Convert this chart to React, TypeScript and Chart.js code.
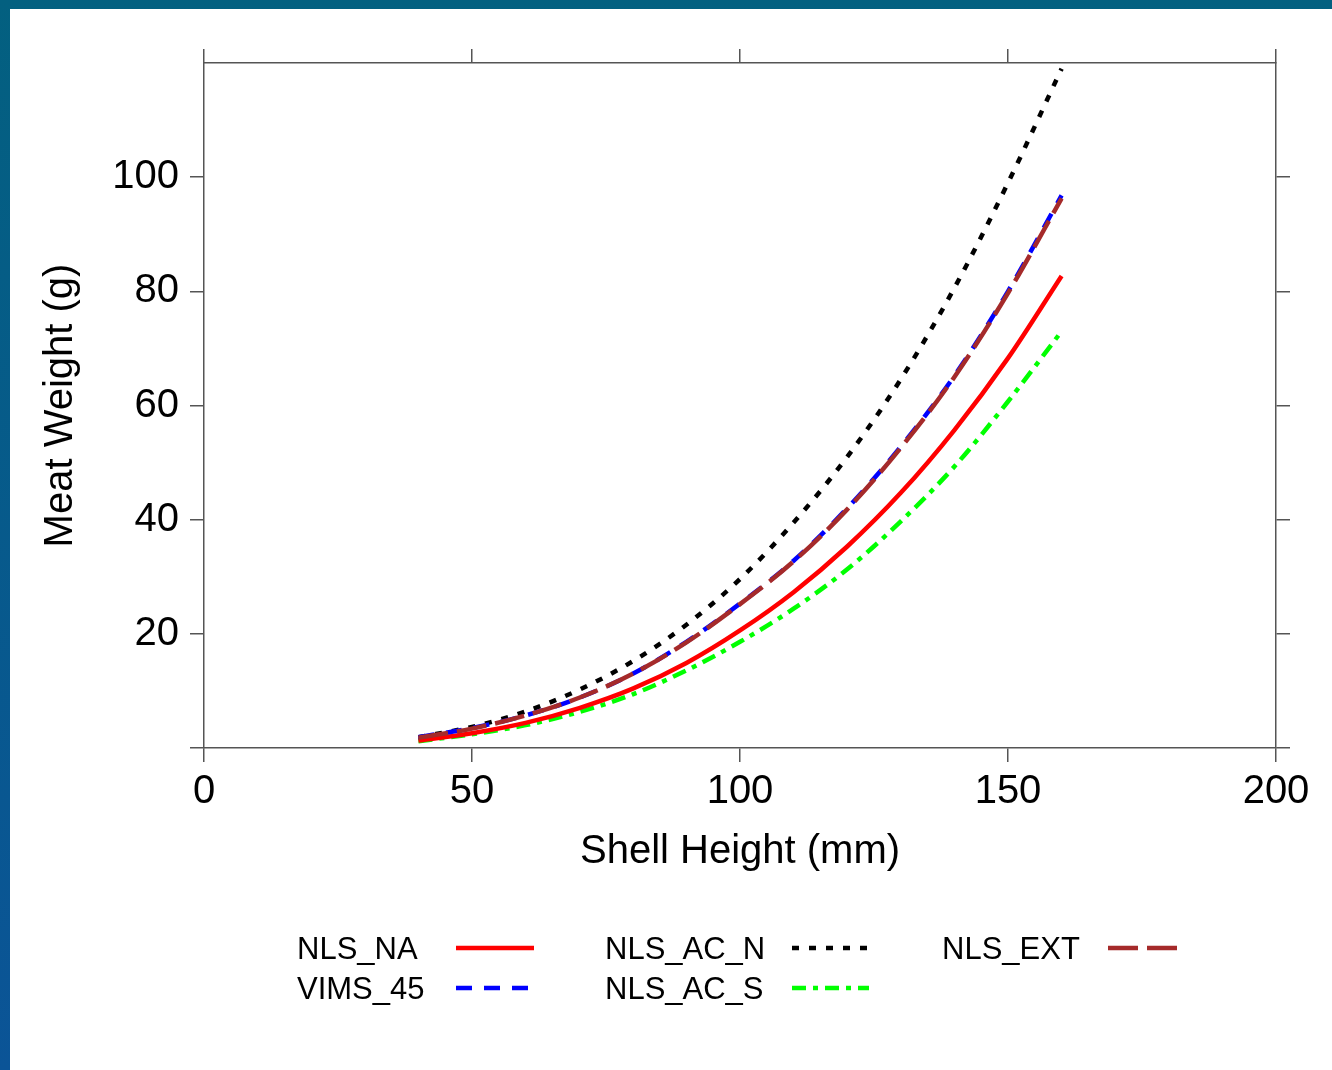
import React, { useEffect, useRef } from "react";
import { Chart, registerables } from "chart.js";

Chart.register(...registerables);

// ---- Data ----
const shellHeights = [40, 50, 60, 70, 80, 90, 100, 110, 120, 130, 140, 150, 160];
const nlsNA = [1.3, 2.6, 4.4, 7.0, 10.4, 14.9, 20.6, 27.3, 35.3, 44.7, 55.7, 68.3, 82.7];
const vims45 = [1.9, 3.5, 5.7, 8.8, 13.0, 18.6, 25.3, 32.8, 42.0, 52.8, 65.2, 80.0, 96.8];
const nlsACN = [1.9, 3.7, 6.4, 10.2, 15.2, 21.6, 29.6, 39.5, 51.0, 64.6, 80.6, 99.0, 119.0];
const nlsACS = [1.2, 2.4, 4.0, 6.3, 9.4, 13.6, 18.6, 24.4, 31.3, 39.7, 49.3, 60.7, 73.0];
const nlsEXT = [1.8, 3.4, 5.7, 8.8, 13.0, 18.5, 25.2, 32.7, 41.8, 52.6, 65.0, 79.7, 96.3];

const xTickValues = [0, 50, 100, 150, 200];
const yTickValues = [0, 20, 40, 60, 80, 100];

const xTitle = "Shell Height (mm)";
const yTitle = "Meat Weight (g)";

const FONT = "'Liberation Sans', Arial, Helvetica, sans-serif";
const AXIS_COLOR = "#555555";

type Style = { color: string; dash: number[]; order: number; col: number; row: number };

const seriesList: { name: string; values: number[]; style: Style }[] = [
  { name: "NLS_NA", values: nlsNA, style: { color: "#ff0000", dash: [], order: 3, col: 0, row: 0 } },
  { name: "VIMS_45", values: vims45, style: { color: "#0000ff", dash: [16, 12], order: 1, col: 0, row: 1 } },
  { name: "NLS_AC_N", values: nlsACN, style: { color: "#000000", dash: [7, 10], order: 2, col: 1, row: 0 } },
  { name: "NLS_AC_S", values: nlsACS, style: { color: "#00ff00", dash: [14, 7, 5, 7], order: 4, col: 1, row: 1 } },
  { name: "NLS_EXT", values: nlsEXT, style: { color: "#a52a2a", dash: [30, 9], order: 0, col: 2, row: 0 } },
];

const legendCols = [
  { textX: 297, lineX0: 456, lineX1: 534 },
  { textX: 605, lineX0: 792, lineX1: 869 },
  { textX: 942, lineX0: 1108, lineX1: 1182 },
];
const legendRows = [950, 990];

const legendPlugin = {
  id: "customLegend",
  afterDraw(chart: any) {
    const ctx = chart.ctx as CanvasRenderingContext2D;
    ctx.save();
    ctx.font = `31px ${FONT}`;
    ctx.textBaseline = "middle";
    ctx.textAlign = "left";
    for (const s of seriesList) {
      const c = legendCols[s.style.col];
      const y = legendRows[s.style.row];
      ctx.fillStyle = "#000";
      ctx.fillText(s.name, c.textX, y);
      ctx.beginPath();
      ctx.strokeStyle = s.style.color;
      ctx.lineWidth = 4.5;
      ctx.lineCap = "butt";
      ctx.setLineDash(s.style.dash);
      ctx.moveTo(c.lineX0, y - 2);
      ctx.lineTo(c.lineX1, y - 2);
      ctx.stroke();
    }
    ctx.restore();
  },
};

export default function App() {
  const ref = useRef<HTMLCanvasElement | null>(null);

  useEffect(() => {
    if (!ref.current) return;
    const datasets = seriesList.map((s) => ({
      label: s.name,
      data: shellHeights.map((h, i) => ({ x: h, y: s.values[i] })),
      borderColor: s.style.color,
      backgroundColor: s.style.color,
      borderDash: s.style.dash,
      borderWidth: 4.5,
      pointRadius: 0,
      tension: 0.4,
      cubicInterpolationMode: "monotone" as const,
      fill: false,
      order: s.style.order,
    }));

    const grid = {
      drawOnChartArea: false,
      drawTicks: true,
      tickLength: 14,
      color: AXIS_COLOR,
      tickColor: AXIS_COLOR,
      lineWidth: 1.5,
    };
    const border = { display: true, color: AXIS_COLOR, width: 1.5 };

    const chart = new Chart(ref.current, {
      type: "line",
      data: { datasets },
      plugins: [legendPlugin],
      options: {
        animation: false,
        responsive: false,
        maintainAspectRatio: false,
        layout: { padding: { left: 0, top: 48, right: 42, bottom: 192 } },
        plugins: { legend: { display: false }, tooltip: { enabled: false } },
        scales: {
          x: {
            type: "linear",
            position: "bottom",
            min: 0,
            max: 200,
            grid,
            border,
            afterBuildTicks: (s: any) => {
              s.ticks = xTickValues.map((v) => ({ value: v }));
            },
            afterFit: (s: any) => {
              s.height = 130;
            },
            ticks: {
              color: "#000",
              font: { family: FONT, size: 40 },
              padding: 6,
              maxRotation: 0,
              autoSkip: false,
              callback: (v: any) => String(v),
            },
            title: {
              display: true,
              text: xTitle,
              color: "#000",
              font: { family: FONT, size: 40 },
              padding: { top: 0, bottom: 2 },
            },
          },
          x2: {
            type: "linear",
            position: "top",
            min: 0,
            max: 200,
            grid,
            border,
            afterBuildTicks: (s: any) => {
              s.ticks = xTickValues.map((v) => ({ value: v }));
            },
            afterFit: (s: any) => {
              s.height = 15;
            },
            ticks: { display: false },
          },
          y: {
            type: "linear",
            position: "left",
            min: 0,
            max: 120,
            grid,
            border,
            afterBuildTicks: (s: any) => {
              s.ticks = yTickValues.map((v) => ({ value: v }));
            },
            afterFit: (s: any) => {
              s.width = 204;
            },
            ticks: {
              color: "#000",
              font: { family: FONT, size: 40 },
              padding: 11,
              autoSkip: false,
              callback: (v: any) => (v === 0 ? "" : String(v)),
            },
            title: {
              display: true,
              text: yTitle,
              color: "#000",
              font: { family: FONT, size: 40 },
              padding: { top: 37, bottom: 0 },
            },
          },
          y2: {
            type: "linear",
            position: "right",
            min: 0,
            max: 120,
            grid,
            border,
            afterBuildTicks: (s: any) => {
              s.ticks = yTickValues.map((v) => ({ value: v }));
            },
            afterFit: (s: any) => {
              s.width = 14;
            },
            ticks: { display: false },
          },
        },
      } as any,
    });
    return () => chart.destroy();
  }, []);

  return (
    <div
      style={{
        position: "fixed",
        left: 0,
        top: 0,
        width: 1332,
        height: 1070,
        background: "linear-gradient(to bottom, #036080, #0b5497)",
        overflow: "hidden",
      }}
    >
      <div
        style={{
          position: "absolute",
          left: 10,
          top: 9,
          right: 0,
          bottom: 0,
          background: "#ffffff",
        }}
      />
      <canvas
        ref={ref}
        width={1332}
        height={1070}
        style={{ position: "absolute", left: 0, top: 0, display: "block" }}
      />
    </div>
  );
}
